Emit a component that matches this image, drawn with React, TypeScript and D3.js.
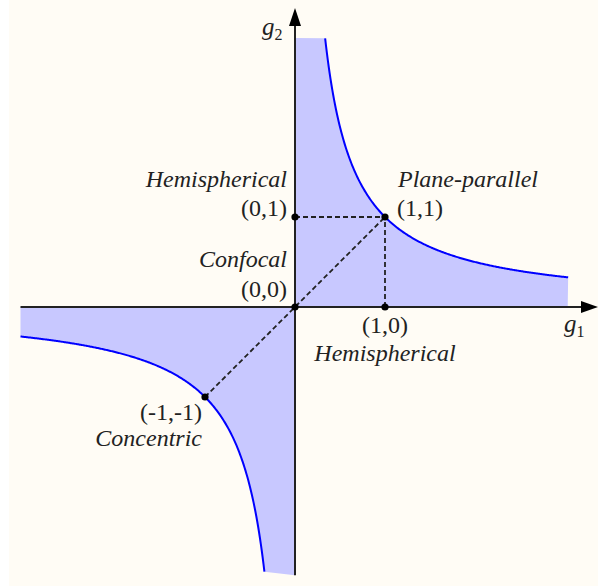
import * as d3 from 'd3'

// g1 * g2 = 1 stability boundary, sampled on each branch
const branchRight = d3.range(0.335, 3.04, 0.01)
const branchLeft = d3.range(-3.05, -0.335, 0.01)

// marked points [g1, g2]
const points = [[0, 0], [0, 1], [1, 1], [1, 0], [-1, -1]]

// dashed guides, from -> to
const guides = [
  [[0, 1], [1, 1]],
  [[1, 0], [1, 1]],
  [[-1, -1], [1, 1]],
]

// label text, anchor point, offset in px, anchor, italic
const labels = [
  { text: 'Hemispherical', at: [0, 1], dx: -8, dy: -30, anchor: 'end', it: true },
  { text: '(0,1)', at: [0, 1], dx: -8, dy: -1, anchor: 'end', it: false },
  { text: 'Plane-parallel', at: [1, 1], dx: 13, dy: -30, anchor: 'start', it: true },
  { text: '(1,1)', at: [1, 1], dx: 12, dy: -1, anchor: 'start', it: false },
  { text: 'Confocal', at: [0, 0], dx: -8, dy: -40, anchor: 'end', it: true },
  { text: '(0,0)', at: [0, 0], dx: -8, dy: -10, anchor: 'end', it: false },
  { text: '(1,0)', at: [1, 0], dx: 0, dy: 26, anchor: 'middle', it: false },
  { text: 'Hemispherical', at: [1, 0], dx: 0, dy: 54, anchor: 'middle', it: true },
  { text: '(-1,-1)', at: [-1, -1], dx: -3, dy: 23, anchor: 'end', it: false },
  { text: 'Concentric', at: [-1, -1], dx: -3, dy: 49, anchor: 'end', it: true },
]

const W = 598
const H = 586

export default function App() {
  const x = d3.scaleLinear().domain([0, 1]).range([295, 385])
  const y = d3.scaleLinear().domain([0, 1]).range([307, 217])

  const g1Min = -3.05, g1Max = 3.03
  const g2Min = -2.98, g2Max = 2.99

  const line = d3.line<number>().x(d => x(d)).y(d => y(1 / d))

  const areaRight = 'M' + [
    [x(0), y(g2Max)],
    ...branchRight.map(g => [x(g), y(1 / g)]),
    [x(g1Max), y(0)],
    [x(0), y(0)],
  ].map(p => p.join(',')).join('L') + 'Z'

  const areaLeft = 'M' + [
    [x(0), y(0)],
    [x(g1Min), y(0)],
    ...branchLeft.map(g => [x(g), y(1 / g)]),
    [x(0), y(g2Min)],
  ].map(p => p.join(',')).join('L') + 'Z'

  const font = '"Liberation Serif", "Times New Roman", serif'
  const axisColor = '#222'

  return (
    <svg width={W} height={H} style={{ position: 'absolute', left: 0, top: 0 }}>
      <rect x={9} y={0} width={W - 9} height={H} fill="#fffcf5" />
      <path d={areaRight} fill="#c8c8ff" />
      <path d={areaLeft} fill="#c8c8ff" />
      <path d={line(branchRight) ?? ''} fill="none" stroke="#0000ff" strokeWidth={2} />
      <path d={line(branchLeft) ?? ''} fill="none" stroke="#0000ff" strokeWidth={2} />

      {/* axes */}
      <line x1={x(g1Min)} x2={582} y1={y(0)} y2={y(0)} stroke={axisColor} strokeWidth={2} />
      <path d={`M598,${y(0)}L581,${y(0) - 6}L581,${y(0) + 6}Z`} fill="#000" />
      <line x1={x(0)} x2={x(0)} y1={y(g2Min)} y2={24} stroke={axisColor} strokeWidth={2} />
      <path d={`M${x(0)},8L${x(0) - 6},26L${x(0) + 6},26Z`} fill="#000" />

      {guides.map(([a, b], i) =>
        <line key={i} x1={x(a[0])} y1={y(a[1])} x2={x(b[0])} y2={y(b[1])}
          stroke="#222" strokeWidth={1.8} strokeDasharray="5,3" />
      )}

      {points.map(([gx, gy], i) =>
        <circle key={i} cx={x(gx)} cy={y(gy)} r={3.6} fill="#000" />
      )}

      <g fontFamily={font} fontSize={24} fill="#222">
        {labels.map((l, i) =>
          <text key={i} x={x(l.at[0]) + l.dx} y={y(l.at[1]) + l.dy}
            textAnchor={l.anchor} fontStyle={l.it ? 'italic' : 'normal'}>{l.text}</text>
        )}
        <text x={564} y={332} fontStyle="italic" fontSize={25}>g<tspan fontStyle="normal" fontSize={16} dy={5}>1</tspan></text>
        <text x={262} y={35} fontStyle="italic" fontSize={25}>g<tspan fontStyle="normal" fontSize={16} dy={5}>2</tspan></text>
      </g>
    </svg>
  )
}
